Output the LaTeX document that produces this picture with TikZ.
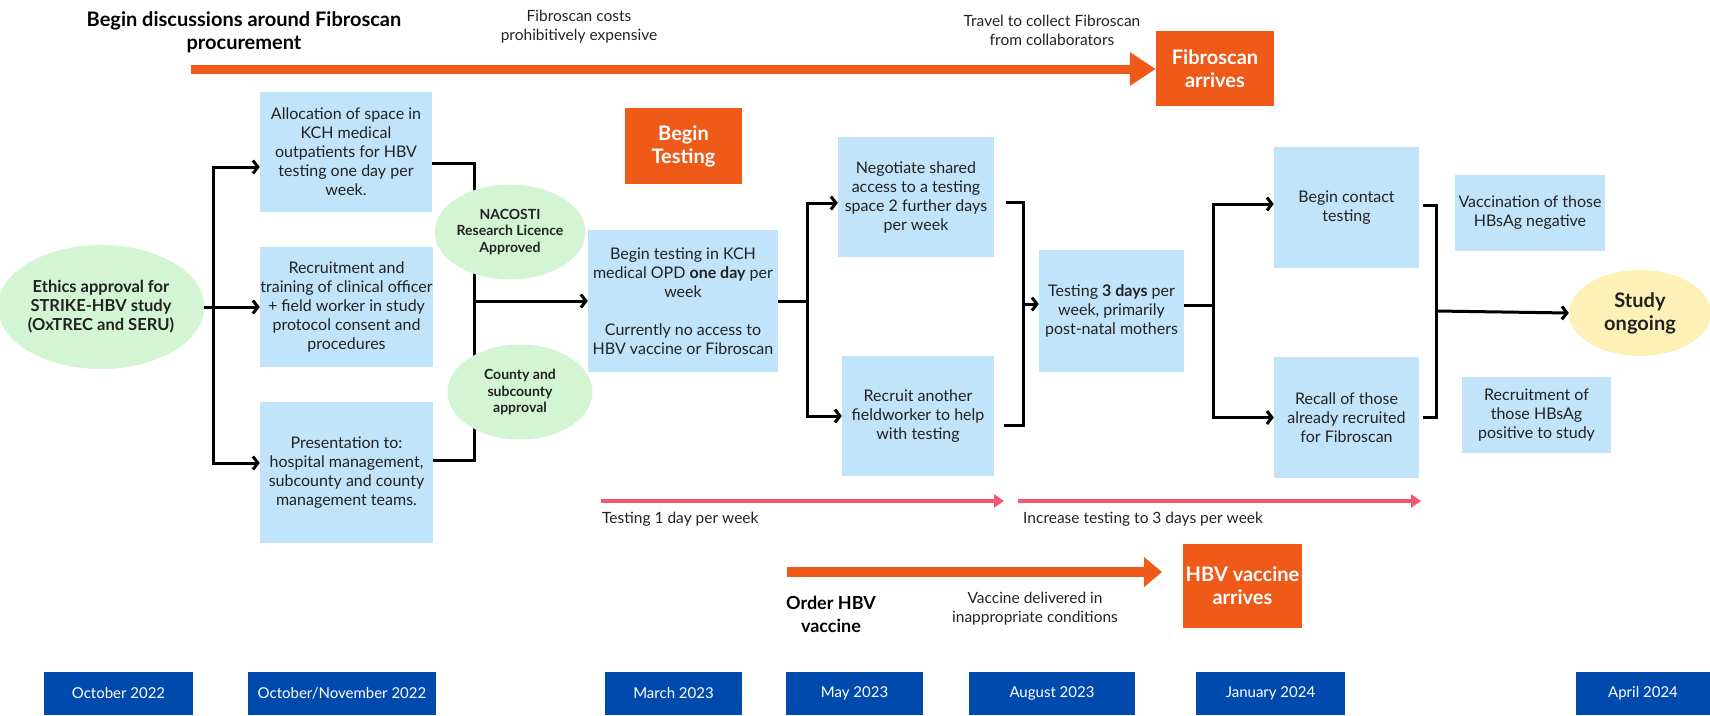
\documentclass[tikz,border=0pt]{standalone}
\usepackage{fontspec}
\setmainfont{Lato}
\usetikzlibrary{arrows.meta,shapes.geometric}

\definecolor{boxblue}{HTML}{C2E4FA}
\definecolor{ovalgreen}{HTML}{D4F5D3}
\definecolor{ovalyellow}{HTML}{FDF1B7}
\definecolor{fiborange}{HTML}{F05A19}
\definecolor{linkpink}{HTML}{F5556E}
\definecolor{dateblue}{HTML}{004AAD}
\definecolor{inkgray}{HTML}{222222}

\newcommand\bodyfont{\fontsize{16}{19}\selectfont}
\newcommand\notefont{\fontsize{15.5}{19}\selectfont}
\newcommand\ovalfont{\fontsize{14}{16.5}\selectfont\bfseries}
\newcommand\headfont{\fontsize{20}{23}\selectfont\bfseries}
\newcommand\datefont{\fontsize{15}{18}\selectfont}

\begin{document}
\begin{tikzpicture}[x=1pt,y=-1pt]
        \tikzstyle{every node}+=[inner sep=0pt]
        \tikzstyle{box}=[rectangle, fill=boxblue, text=inkgray, align=center, font=\bodyfont]
        \tikzstyle{oval}=[ellipse, fill=ovalgreen, text=inkgray, align=center, font=\ovalfont]
        \tikzstyle{orangebox}=[rectangle, fill=fiborange, text=white, align=center, font=\headfont]
        \tikzstyle{datebox}=[rectangle, fill=dateblue, text=white, font=\datefont, minimum height=43pt]
        \tikzstyle{note}=[text=inkgray, align=center, font=\notefont]
        \tikzstyle{joint}=[line width=3pt, black]
        \tikzstyle{conn}=[joint, -{Straight Barb[length=5pt,width=13pt]}]
        \tikzstyle{bigarrow}=[line width=9pt, fiborange, -{Triangle[length=26pt,width=32pt]}]
        \tikzstyle{pinkarrow}=[line width=4pt, linkpink, -{Triangle[length=10pt,width=13pt]}]
        \useasboundingbox (0,0) rectangle (1710,715);
        \node [note, font=\headfont, text=black] (discuss) at (244,32) {Begin discussions around Fibroscan\\procurement};
        \node [note] (costs) at (579,27) {Fibroscan costs\\prohibitively expensive};
        \node [note] (travel) at (1052,30) {Travel to collect Fibroscan\\from collaborators};
        \node [orangebox, minimum width=118pt, minimum height=75pt] (fibarr) at (1215,68.5) {Fibroscan\\arrives};
        \coordinate (fibstart) at (191,69);
        \draw [bigarrow] (fibstart) -- (fibarr.west |- fibstart);
        \node [oval, font=\fontsize{16.5}{19}\selectfont\bfseries, minimum width=174pt, minimum height=124pt] (ethics) at (101,307) {Ethics approval for\\STRIKE-HBV study\\(OxTREC and SERU)};
        \node [box, minimum width=172pt, minimum height=120pt] (alloc) at (346,152) {Allocation of space in\\KCH medical\\outpatients for HBV\\testing one day per\\week.};
        \node [box, minimum width=173pt, minimum height=120pt] (recr) at (346.5,307) {Recruitment and\\training of clinical officer\\+ field worker in study\\protocol consent and\\procedures};
        \node [box, minimum width=173pt, minimum height=141pt] (pres) at (346.5,472.5) {Presentation to:\\hospital management,\\subcounty and county\\management teams.};
        \node [orangebox, minimum width=117pt, minimum height=76pt] (begintest) at (683.5,146) {Begin\\Testing};
        \node [box, minimum width=190pt, minimum height=142pt] (bt) at (683,301) {Begin testing in KCH\\medical OPD \textbf{one day} per\\week\\[19pt]Currently no access to\\HBV vaccine or Fibroscan};
        \node [box, minimum width=156pt, minimum height=120pt] (nego) at (916,197) {Negotiate shared\\access to a testing\\space 2 further days\\per week};
        \node [box, minimum width=152pt, minimum height=120pt] (recruit) at (918,416) {Recruit another\\fieldworker to help\\with testing};
        \node [box, minimum width=145pt, minimum height=122pt] (test3) at (1111.5,311) {Testing \textbf{3 days} per\\week, primarily\\post-natal mothers};
        \node [box, minimum width=145pt, minimum height=121pt] (contact) at (1346.5,207.5) {Begin contact\\testing};
        \node [box, minimum width=145pt, minimum height=121pt] (recall) at (1346.5,417.5) {Recall of those\\already recruited\\for Fibroscan};
        \node [box, minimum width=150pt, minimum height=76pt] (vacc) at (1530,213) {Vaccination of those\\HBsAg negative};
        \node [box, minimum width=149pt, minimum height=76pt] (recof) at (1536.5,415) {Recruitment of\\those HBsAg\\positive to study};
        \node [oval, fill=ovalyellow, font=\headfont, minimum width=142pt, minimum height=86pt] (study) at (1640,313) {Study\\ongoing};
        \coordinate (s1l) at (213,307);
        \draw [joint] (ethics.east) -- (s1l);
        \draw [conn] (s1l) |- ([yshift=-15pt]alloc.west);
        \draw [conn] (s1l) -- (recr.west);
        \draw [conn] (s1l) |- ([yshift=9.5pt]pres.west);
        \coordinate (s1r) at (474,301);
        \draw [joint] ([yshift=-11pt]alloc.east) -| (s1r);
        \draw [joint] ([yshift=12.5pt]pres.east) -| (s1r);
        \draw [conn] (s1r) -- (bt.west);
        \node [oval, minimum width=145pt, minimum height=95pt] (nacosti) at (510,232) {NACOSTI\\Research Licence\\Approved};
        \node [oval, minimum width=145pt, minimum height=95pt] (county) at (520,392) {County and\\subcounty\\approval};
        \coordinate (s2l) at (807,301);
        \draw [joint] (bt.east) -- (s2l);
        \draw [conn] (s2l) |- ([yshift=-6pt]nego.west);
        \draw [conn] (s2l) |- (recruit.west);
        \coordinate (s2r) at (1023,304);
        \draw [joint] ([xshift=12pt,yshift=-5pt]nego.east) -| (s2r);
        \draw [joint] ([xshift=10pt,yshift=-9pt]recruit.east) -| (s2r);
        \draw [conn] (s2r) -- (test3.west |- s2r);
        \coordinate (s3l) at (1213,305);
        \draw [joint] (test3.east |- s3l) -- (s3l);
        \draw [conn] (s3l) |- ([yshift=3.5pt]contact.west);
        \draw [conn] (s3l) |- (recall.west);
        \coordinate (s3r) at (1436,311);
        \draw [joint] ([xshift=4pt,yshift=2.5pt]contact.east) -| (s3r);
        \draw [joint] ([xshift=4pt]recall.east) -| (s3r);
        \draw [conn] (s3r) -- (study.west);
        \coordinate (p1start) at (601,501);
        \coordinate (p1end) at (1004,501);
        \coordinate (p2start) at (1018,501);
        \coordinate (p2end) at (1421,501);
        \draw [pinkarrow] (p1start) -- (p1end);
        \draw [pinkarrow] (p2start) -- (p2end);
        \node [note, anchor=west] (oneday) at (602,519) {Testing 1 day per week};
        \node [note, anchor=west] (threeday) at (1023,519) {Increase testing to 3 days per week};
        \node [orangebox, minimum width=119pt, minimum height=84pt] (hbvarr) at (1242.5,586) {HBV vaccine\\arrives};
        \coordinate (vacstart) at (787,572);
        \coordinate (vacend) at (1162,572);
        \draw [bigarrow, line width=10pt, -{Triangle[length=18pt,width=29pt]}] (vacstart) -- (vacend);
        \node [note, font=\fontsize{18}{23}\selectfont\bfseries, text=black] (order) at (831,614) {Order HBV\\vaccine};
        \node [note] (delivered) at (1035,609) {Vaccine delivered in\\inappropriate conditions};
        \node [datebox, minimum width=149pt] (oct22) at (118.5,693.5) {October 2022};
        \node [datebox, minimum width=188pt] (octnov22) at (342,693.5) {October/November 2022};
        \node [datebox, minimum width=137pt] (mar23) at (673.5,693.5) {March 2023};
        \node [datebox, minimum width=137pt] (may23) at (854.5,693.5) {May 2023};
        \node [datebox, minimum width=166pt] (aug23) at (1052,693.5) {August 2023};
        \node [datebox, minimum width=149pt] (jan24) at (1270.5,693.5) {January 2024};
        \node [datebox, minimum width=134pt] (apr24) at (1643,693.5) {April 2024};
\end{tikzpicture}
\end{document}
